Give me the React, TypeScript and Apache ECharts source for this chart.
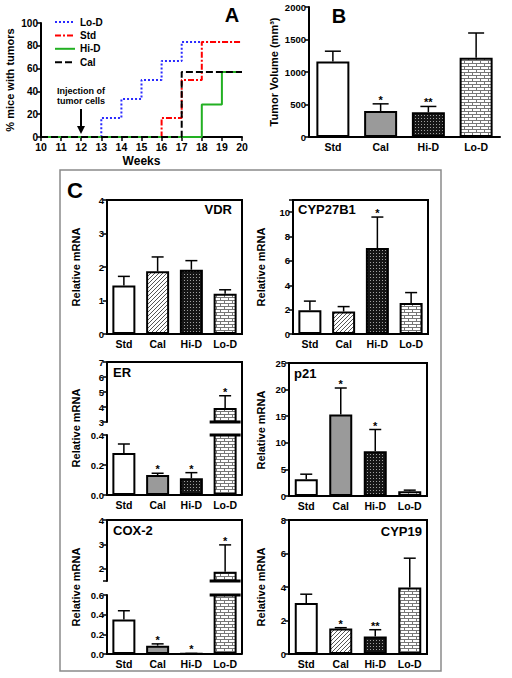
import React, { useEffect, useRef } from 'react';
import * as echarts from 'echarts';

const FONT = 'Liberation Sans';

const groups = ['Std', 'Cal', 'Hi-D', 'Lo-D'];

// Panel A: % mice with tumors per week
const weeks = [10, 11, 12, 13, 14, 15, 16, 17, 18, 19, 20];
const pctLoD = [0, 0, 0, 16.7, 33.3, 50, 66.7, 83.3, 83.3, 83.3, 83.3];
const pctStd = [0, 0, 0, 0, 0, 0, 16.7, 50, 83.3, 83.3, 83.3];
const pctHiD = [0, 0, 0, 0, 0, 0, 0, 0, 28.6, 57.1, 57.1];
const pctCal = [0, 0, 0, 0, 0, 0, 0, 57.1, 57.1, 57.1, 57.1];
const legendNames = ['Lo-D', 'Std', 'Hi-D', 'Cal'];

// Panel B: tumor volume
const tumorMean = [1160, 400, 380, 1220];
const tumorSem = [160, 110, 90, 380];
const tumorStars = ['', '*', '**', ''];

// Panel C
const vdrMean = [1.45, 1.87, 1.92, 1.2];
const vdrSem = [0.27, 0.43, 0.27, 0.12];
const vdrStars = ['', '', '', ''];

const cyp27Mean = [1.95, 1.85, 7.05, 2.55];
const cyp27Sem = [0.75, 0.4, 2.55, 0.85];
const cyp27Stars = ['', '', '*', ''];

const erMean = [0.28, 0.133, 0.111, 3.93];
const erSem = [0.06, 0.012, 0.038, 0.82];
const erStars = ['', '*', '*', '*'];

const p21Mean = [3.15, 15.3, 8.4, 0.9];
const p21Sem = [0.95, 5.0, 4.1, 0.2];
const p21Stars = ['', '*', '*', ''];

const coxMean = [0.35, 0.085, 0.004, 1.88];
const coxSem = [0.09, 0.018, 0.002, 1.1];
const coxStars = ['', '*', '*', '*'];

const cyp19Mean = [3.05, 1.52, 1.05, 3.97];
const cyp19Sem = [0.52, 0.05, 0.4, 1.75];
const cyp19Stars = ['', '*', '**', ''];

const lineColors = ['#2a2aff', '#ff0000', '#22b022', '#000000'];
const lineDashes: any[] = [[2, 2], [6, 2, 2, 2], null, [7, 3]];

function pattern(w: number, h: number, draw: (ctx: CanvasRenderingContext2D) => void): any {
  const c = document.createElement('canvas');
  c.width = w;
  c.height = h;
  const ctx = c.getContext('2d')!;
  draw(ctx);
  return { image: c.toDataURL(), repeat: 'repeat', imageWidth: w, imageHeight: h };
}

function line(x1: number, y1: number, x2: number, y2: number, w: number) {
  return { type: 'line', shape: { x1, y1, x2, y2 }, style: { stroke: '#000', lineWidth: w } };
}

export default function App() {
  const ref = useRef<HTMLDivElement>(null);
  useEffect(() => {
    const el = ref.current!;
    const chart = echarts.init(el, null, { renderer: 'svg', width: 512, height: 678 });

    const hatch = pattern(4, 4, (ctx) => {
      ctx.fillStyle = '#fff';
      ctx.fillRect(0, 0, 4, 4);
      ctx.fillStyle = '#555';
      for (let i = 0; i < 4; i++) ctx.fillRect(i, 3 - i, 1, 1);
    });
    const dots = pattern(3, 3, (ctx) => {
      ctx.fillStyle = '#151515';
      ctx.fillRect(0, 0, 3, 3);
      ctx.fillStyle = '#a0a0a0';
      ctx.fillRect(1, 1, 1, 1);
    });
    const brick = pattern(8, 6, (ctx) => {
      ctx.fillStyle = '#fff';
      ctx.fillRect(0, 0, 8, 6);
      ctx.fillStyle = '#777';
      ctx.fillRect(0, 0, 8, 1);
      ctx.fillRect(0, 3, 8, 1);
      ctx.fillRect(0, 1, 1, 2);
      ctx.fillRect(4, 4, 1, 2);
    });
    const fillsSolid = ['#fff', '#9a9a9a', dots, brick];
    const fillsHatch = ['#fff', hatch, dots, brick];

    const valueAxis = (gridIndex: number, min: number, max: number, interval: number, extra: any = {}) => ({
      type: 'value',
      gridIndex,
      min,
      max,
      interval,
      axisLine: { show: true, onZero: false, lineStyle: { color: '#000', width: 2 } },
      axisTick: { show: true, length: 4, lineStyle: { color: '#000', width: 1.5 } },
      axisLabel: { color: '#000', fontWeight: 'bold', fontSize: 9.5, fontFamily: FONT, margin: 3 },
      splitLine: { show: false },
      ...extra,
    });
    const catAxis = (gridIndex: number, show = true, fontSize = 10.5) => ({
      type: 'category',
      gridIndex,
      data: groups,
      show,
      axisLine: { show: true, lineStyle: { color: '#000', width: 2 } },
      axisTick: { show: false },
      axisLabel: { color: '#000', fontWeight: 'bold', fontSize, fontFamily: FONT, margin: 4 },
    });

    const barSeries = (gi: number, mean: number[], fills: any[], barWidth: number) => ({
      type: 'bar',
      xAxisIndex: gi,
      yAxisIndex: gi,
      barWidth,
      clip: true,
      silent: true,
      data: mean.map((v, i) => ({ value: v, itemStyle: { color: fills[i], borderColor: '#000', borderWidth: 2 } })),
    });

    const errSeries = (
      gi: number,
      mean: number[],
      sem: number[],
      stars: string[],
      min: number,
      max: number,
      cap: number,
      broken: boolean,
      barFrac: number
    ) => ({
      type: 'custom',
      xAxisIndex: gi,
      yAxisIndex: gi,
      z: 5,
      clip: false,
      silent: true,
      data: mean.map((m, i) => [i, m, sem[i]]),
      renderItem: (params: any, api: any) => {
        const i = api.value(0);
        const m = api.value(1);
        const s = api.value(2);
        const children: any[] = [];
        if (m >= min && m <= max) {
          const b = api.coord([i, m]);
          const t = api.coord([i, m + s]);
          children.push(line(b[0], b[1], t[0], t[1], 1.5));
          children.push(line(t[0] - cap, t[1], t[0] + cap, t[1], 1.5));
          const st = stars[params.dataIndex];
          if (st) {
            children.push({
              type: 'text',
              x: t[0],
              y: t[1] - 4,
              style: { text: st, fill: '#000', font: `bold 11px ${FONT}`, align: 'center', verticalAlign: 'middle' },
            });
          }
        }
        if (broken) {
          const half = (api.size([1, 0])[0] * barFrac) / 2 + 4;
          if (m > max) {
            const p = api.coord([i, max]);
            children.push(line(p[0] - half, p[1], p[0] + half, p[1], 3));
          }
          if (min > 0 && m > min) {
            const p = api.coord([i, min]);
            children.push(line(p[0] - half, p[1], p[0] + half, p[1], 3));
          }
        }
        return { type: 'group', children };
      },
    });

    const grids = [
      { left: 41, top: 23, width: 201, height: 114 }, // 0 A
      { left: 309, top: 7, width: 191, height: 130 }, // 1 B
      { left: 107, top: 200, width: 135, height: 134, show: true, borderColor: '#000', borderWidth: 2 }, // 2 VDR
      { left: 293, top: 200, width: 135, height: 134, show: true, borderColor: '#000', borderWidth: 2 }, // 3 CYP27B1
      { left: 107, top: 362, width: 135, height: 60 }, // 4 ER upper
      { left: 107, top: 435, width: 135, height: 60 }, // 5 ER lower
      { left: 289, top: 363, width: 138, height: 133, show: true, borderColor: '#000', borderWidth: 2 }, // 6 p21
      { left: 107, top: 520, width: 135, height: 61 }, // 7 COX upper
      { left: 107, top: 595, width: 135, height: 59 }, // 8 COX lower
      { left: 289, top: 520, width: 138, height: 134, show: true, borderColor: '#000', borderWidth: 2 }, // 9 CYP19
    ];

    const xAxes: any[] = [
      {
        type: 'value',
        gridIndex: 0,
        min: 10,
        max: 20,
        interval: 1,
        name: 'Weeks',
        nameLocation: 'middle',
        nameGap: 18,
        nameTextStyle: { color: '#000', fontWeight: 'bold', fontSize: 12, fontFamily: FONT },
        axisLine: { show: true, onZero: false, lineStyle: { color: '#000', width: 2 } },
        axisTick: { show: true, length: 4, lineStyle: { color: '#000', width: 1.5 } },
        axisLabel: { color: '#000', fontWeight: 'bold', fontSize: 10.5, fontFamily: FONT, margin: 4 },
        splitLine: { show: false },
      },
      catAxis(1, true, 10.5),
      catAxis(2),
      catAxis(3),
      catAxis(4, false),
      catAxis(5),
      catAxis(6),
      catAxis(7, false),
      catAxis(8),
      catAxis(9),
    ];

    const yAxes: any[] = [
      valueAxis(0, 0, 100, 20, {
        name: '% mice with tumors',
        nameLocation: 'middle',
        nameGap: 26,
        nameTextStyle: { color: '#000', fontWeight: 'bold', fontSize: 11, fontFamily: FONT },
        axisLabel: { color: '#000', fontWeight: 'bold', fontSize: 10, fontFamily: FONT, margin: 3 },
      }),
      valueAxis(1, 0, 2000, 500, {
        name: 'Tumor Volume (mm³)',
        nameLocation: 'middle',
        nameGap: 30,
        nameTextStyle: { color: '#000', fontWeight: 'bold', fontSize: 11, fontFamily: FONT },
        axisLabel: {
          color: '#000', fontWeight: 'bold', fontSize: 9.5, fontFamily: FONT, margin: 3,
          formatter: (v: number) => String(v),
        },
      }),
      valueAxis(2, 0, 4, 1),
      valueAxis(3, 0, 11, 2, {
        axisLabel: {
          color: '#000', fontWeight: 'bold', fontSize: 9.5, fontFamily: FONT, margin: 3,
          formatter: (v: number) => (v > 10 ? '' : String(v)),
        },
      }),
      valueAxis(4, 3, 7, 1),
      valueAxis(5, 0, 0.4, 0.2, {
        axisLabel: {
          color: '#000', fontWeight: 'bold', fontSize: 9.5, fontFamily: FONT, margin: 3,
          formatter: (v: number) => v.toFixed(1),
        },
      }),
      valueAxis(6, 0, 25, 5),
      valueAxis(7, 1.5, 4, 1, {
        axisTick: { show: true, length: 4, customValues: [1.5, 2, 3, 4], lineStyle: { color: '#000', width: 1.5 } },
        axisLabel: {
          color: '#000', fontWeight: 'bold', fontSize: 9.5, fontFamily: FONT, margin: 3,
          customValues: [2, 3, 4],
        },
      }),
      valueAxis(8, 0, 0.6, 0.2, {
        axisLabel: {
          color: '#000', fontWeight: 'bold', fontSize: 9.5, fontFamily: FONT, margin: 3,
          formatter: (v: number) => v.toFixed(1),
        },
      }),
      valueAxis(9, 0, 8, 2),
    ];

    const lineSeries = (name: string, vals: number[], color: string, type: any) => ({
      name,
      type: 'line',
      xAxisIndex: 0,
      yAxisIndex: 0,
      step: 'end',
      symbol: 'none',
      silent: true,
      lineStyle: { color, width: 2, type },
      itemStyle: { color },
      data: weeks.map((w, i) => [w, vals[i]]),
    });

    const series: any[] = [
      lineSeries('Lo-D', pctLoD, lineColors[0], lineDashes[0]),
      lineSeries('Std', pctStd, lineColors[1], lineDashes[1]),
      lineSeries('Hi-D', pctHiD, lineColors[2], 'solid'),
      lineSeries('Cal', pctCal, lineColors[3], lineDashes[3]),
      barSeries(1, tumorMean, fillsSolid, 33),
      errSeries(1, tumorMean, tumorSem, tumorStars, 0, 2000, 8, false, 0.69),
      barSeries(2, vdrMean, fillsHatch, 23),
      errSeries(2, vdrMean, vdrSem, vdrStars, 0, 4, 6, false, 0.68),
      barSeries(3, cyp27Mean, fillsHatch, 23),
      errSeries(3, cyp27Mean, cyp27Sem, cyp27Stars, 0, 11, 6, false, 0.68),
      barSeries(4, erMean, fillsSolid, 23),
      errSeries(4, erMean, erSem, erStars, 3, 7, 6, true, 0.68),
      barSeries(5, erMean, fillsSolid, 23),
      errSeries(5, erMean, erSem, erStars, 0, 0.4, 6, true, 0.68),
      barSeries(6, p21Mean, fillsSolid, 23),
      errSeries(6, p21Mean, p21Sem, p21Stars, 0, 25, 6, false, 0.68),
      barSeries(7, coxMean, fillsSolid, 23),
      errSeries(7, coxMean, coxSem, coxStars, 1.5, 4, 6, true, 0.68),
      barSeries(8, coxMean, fillsSolid, 23),
      errSeries(8, coxMean, coxSem, coxStars, 0, 0.6, 6, true, 0.68),
      barSeries(9, cyp19Mean, fillsHatch, 23),
      errSeries(9, cyp19Mean, cyp19Sem, cyp19Stars, 0, 8, 6, false, 0.68),
    ];

    const txt = (text: string, x: number, y: number, size: number, align = 'left', extra: any = {}) => ({
      type: 'text',
      x,
      y,
      ...extra,
      style: { text, fill: '#000', font: `bold ${size}px ${FONT}`, align, verticalAlign: 'middle' },
    });
    const vtxt = (text: string, x: number, y: number) => ({
      type: 'text',
      x,
      y,
      rotation: Math.PI / 2,
      style: { text, fill: '#000', font: `bold 11px ${FONT}`, align: 'center', verticalAlign: 'middle' },
    });

    const legendItems: any[] = [];
    legendNames.forEach((n, k) => {
      const y = 22 + k * 13.4;
      legendItems.push({
        type: 'line',
        shape: { x1: 55, y1: y, x2: 75, y2: y },
        style: { stroke: lineColors[k], lineWidth: 2, lineDash: lineDashes[k] || undefined },
      });
      legendItems.push(txt(n, 80, y, 10, 'left'));
    });

    const graphic: any[] = [
      { type: 'rect', shape: { x: 60, y: 170, width: 381, height: 501 }, style: { fill: 'none', stroke: '#8a8a8a', lineWidth: 1.5 } },
      ...legendItems,
      txt('A', 232, 15, 20, 'center'),
      txt('B', 339, 16, 20, 'center'),
      txt('C', 75, 190, 22, 'center'),
      txt('Injection of', 81, 91, 9, 'center'),
      txt('tumor cells', 81, 101, 9, 'center'),
      { type: 'line', shape: { x1: 81, y1: 109, x2: 81, y2: 128 }, style: { stroke: '#000', lineWidth: 2 } },
      { type: 'polygon', shape: { points: [[77, 126], [85, 126], [81, 134]] }, style: { fill: '#000' } },
      txt('VDR', 232, 209, 13, 'right'),
      txt('CYP27B1', 298, 209, 13, 'left'),
      txt('ER', 113, 372, 13, 'left'),
      txt('p21', 294, 373, 13, 'left'),
      txt('COX-2', 113, 530, 13, 'left'),
      txt('CYP19', 422, 531, 13, 'right'),
      vtxt('Relative mRNA', 76, 267),
      vtxt('Relative mRNA', 261, 267),
      vtxt('Relative mRNA', 76, 428),
      vtxt('Relative mRNA', 261, 430),
      vtxt('Relative mRNA', 76, 587),
      vtxt('Relative mRNA', 261, 587),
      { type: 'polyline', shape: { points: [[107, 362], [242, 362], [242, 495]] }, style: { stroke: '#000', lineWidth: 2, fill: 'none' } },
      { type: 'polyline', shape: { points: [[107, 520], [242, 520], [242, 654]] }, style: { stroke: '#000', lineWidth: 2, fill: 'none' } },
    ];

    const option: any = {
      animation: false,
      backgroundColor: '#fff',
      textStyle: { fontFamily: FONT },
      grid: grids,
      xAxis: xAxes,
      yAxis: yAxes,
      series,
      graphic,
    };
    chart.setOption(option);
    return () => chart.dispose();
  }, []);
  return (
    <div
      ref={ref}
      style={{ position: 'absolute', left: 0, top: 0, width: 512, height: 678, background: '#fff' }}
    />
  );
}
